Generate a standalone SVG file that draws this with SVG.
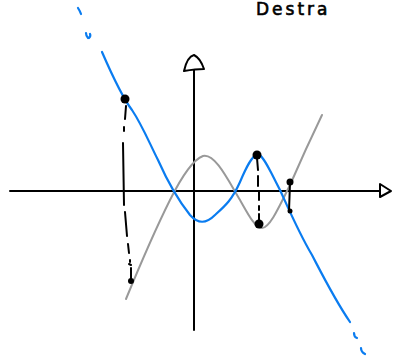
<svg xmlns="http://www.w3.org/2000/svg" width="393" height="362" viewBox="0 0 393 362">
<style>
.ax{fill:none;stroke:#000;stroke-width:2;stroke-linecap:round;stroke-linejoin:round}
.blue{fill:none;stroke:#0a7cf0;stroke-width:2.2;stroke-linecap:round;stroke-linejoin:round}
.gray{fill:none;stroke:#999;stroke-width:2;stroke-linecap:round;stroke-linejoin:round}
.dash{fill:none;stroke:#000;stroke-width:2;stroke-linecap:round}
.dot{fill:#000}
</style>
<rect width="393" height="362" fill="#fff"/>
<g id="axes">
<path class="ax" d="M10 191 L380 191"/>
<path class="ax" d="M380 184 L391 191 L380 197 Z"/>
<path class="ax" d="M194 330 L194 70"/>
<path class="ax" d="M184 71 C186 62 190 56 194 55 C198 57 202 63 204 69 C197 69 190 70 184 71 Z"/>
</g>
<g id="label">
<text x="256" y="15" font-family="'DejaVu Sans', sans-serif" font-size="17" fill="#000" stroke="#000" stroke-width="0.6" letter-spacing="3">Destra</text>
</g>
<g id="gray-curve">
<path class="gray" d="M126 299 C140 265 155 230 170 200 C180 180 192 160 203 156 C215 153 228 180 240 200 C248 214 255 228 262 228 C270 228 280 205 290 185 C300 162 310 140 322 115"/>
</g>
<g id="blue-curve">
<path class="blue" d="M78 8 Q80 11 81 14"/>
<path class="blue" d="M86 33 Q86 36 88 38 M90 34 Q91 36 89 38"/>
<path class="blue" d="M102 52 C112 75 122 97 132 110 C142 125 148 140 158 160 C166 178 178 200 190 215 C198 224 206 224 215 215 C225 206 232 200 240 182 C246 168 252 155 258 154 C264 156 272 175 280 190 C290 212 300 235 312 255 C325 280 335 300 350 322"/>
<path class="blue" d="M354 333 Q354 337 357 338"/>
<path class="blue" d="M361 348 Q361 352 365 354"/>
</g>
<g id="connectors">
<path class="dash" d="M126 106 L125 119 M124 127 L124 131 M123 143 L124 205 M125 212 L127 236 M128 244 L129 253 M130 260 L130 262 M129 264 L131 265 M131 268 L131 282"/>
<path class="dash" d="M257 158 L258 170 M258 176 L258 186 M259 192 L259 200 M259 206 L259 210 M259 214 L259 224"/>
<path class="dash" d="M290 183 L289 211"/>
</g>
<g id="points">
<circle class="dot" cx="125" cy="99" r="4.5"/>
<circle class="dot" cx="131" cy="281" r="3"/>
<circle class="dot" cx="257" cy="155" r="4.5"/>
<circle class="dot" cx="259" cy="224" r="4.5"/>
<circle class="dot" cx="290" cy="182" r="3.5"/>
<circle class="dot" cx="290" cy="211" r="2.5"/>
</g>
</svg>
